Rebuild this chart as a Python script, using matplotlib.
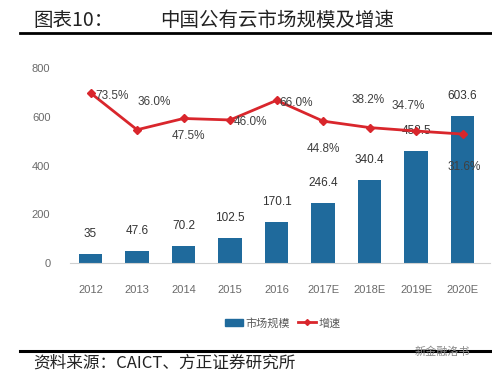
import numpy as np
import matplotlib.pyplot as plt
from matplotlib.lines import Line2D
from matplotlib.patches import Patch

plt.rcParams['font.family'] = ['Noto Sans CJK SC', 'DejaVu Sans']

years = ["2012", "2013", "2014", "2015", "2016", "2017E", "2018E", "2019E", "2020E"]
market_size = [35, 47.6, 70.2, 102.5, 170.1, 246.4, 340.4, 458.5, 603.6]
growth = [73.5, 36.0, 47.5, 46.0, 66.0, 44.8, 38.2, 34.7, 31.6]
# label offsets for growth labels (pixels, dx, dy)
growth_offsets = [(21, -3), (17, 28), (5, -18), (20, -2), (20, -3), (0, -28), (-1, 28), (-8, 25), (2, -33)]

bar_color = "#1f6a9c"
line_color = "#d9262c"
num_family = ['Liberation Sans', 'DejaVu Sans']

fig = plt.figure(figsize=(4.92, 3.76), dpi=100)
ax = fig.add_axes([0.142, 0.3005, 0.854, 0.5186])
x = np.arange(len(years))

ax.bar(x, market_size, width=0.5, color=bar_color, zorder=2)
ax.set_ylim(0, 800)
ax.set_xlim(-0.445, 8.59)
ax.set_yticks([0, 200, 400, 600, 800])
ax.set_xticks(x)
ax.set_xticklabels(years)
for s in ["top", "right", "left"]:
    ax.spines[s].set_visible(False)
ax.spines["bottom"].set_color("#d0d0d0")
ax.tick_params(length=0, colors="#6a6a6a", labelsize=8)
ax.tick_params(axis='x', pad=16)
ax.tick_params(axis='y', pad=14)
for lab in ax.get_xticklabels() + ax.get_yticklabels():
    lab.set_family(num_family)

for xi, v in zip(x, market_size):
    ax.annotate("{:g}".format(v), (xi, v), xytext=(0, 20), textcoords="offset pixels",
                ha="center", va="center", fontsize=8.5, color="#333333", family=num_family)

ax2 = ax.twinx()
ax2.set_ylim(-100, 99)
ax2.axis("off")
ax2.plot(x, growth, color=line_color, lw=2, marker="D", ms=4, zorder=3)
for xi, v, off in zip(x, growth, growth_offsets):
    ax2.annotate("{:.1f}%".format(v), (xi, v), xytext=off, textcoords="offset pixels",
                 ha="center", va="center", fontsize=8.5, color="#404040", family=num_family)

# legend
handles = [Patch(color=bar_color), Line2D([], [], color=line_color, lw=2, marker="D", ms=3)]
fig.legend(handles, ["市场规模", "增速"], loc="center", bbox_to_anchor=(0.575, 1 - 323 / 376),
           ncol=2, frameon=False, fontsize=8, handlelength=1.6, handletextpad=0.2,
           columnspacing=0.8, labelcolor="#595959")

# title and rules
fig.text(33 / 492, 1 - 20 / 376, "图表10：", fontsize=14, color="#222222", va="center")
fig.text(160 / 492, 1 - 20 / 376, "中国公有云市场规模及增速", fontsize=14, color="#222222", va="center")
fig.add_artist(Line2D([20 / 492, 1], [1 - 33 / 376] * 2, color="black", lw=2))
fig.add_artist(Line2D([20 / 492, 1], [1 - 351 / 376] * 2, color="black", lw=2.2))
fig.text(33 / 492, 1 - 363 / 376, "资料来源：CAICT、方正证券研究所", fontsize=12, style="italic",
         color="#222222", va="center")
fig.text(415 / 492, 1 - 352 / 376, "新金融洛书", fontsize=8, color="#888888", va="center")

fig.savefig("out.png", dpi=100)
